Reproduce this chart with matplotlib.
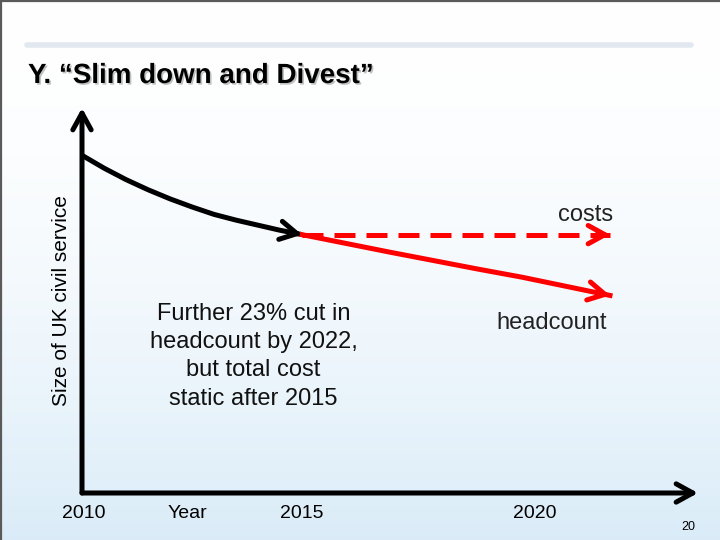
import numpy as np
import matplotlib
matplotlib.use("Agg")
import matplotlib.pyplot as plt
import matplotlib.patheffects as pe
from matplotlib.lines import Line2D

plt.rcParams['font.family'] = ['Liberation Sans', 'DejaVu Sans']

# size of the civil service, 2010 = 100
years_before = [2010, 2010.5, 2011, 2011.5, 2012, 2012.5, 2013, 2013.5, 2014, 2014.5, 2015]
size_before = [100, 96.2, 92.8, 89.8, 87.1, 84.7, 82.5, 80.8, 79.3, 77.8, 76.5]

years_after = [2015, 2016, 2017, 2018, 2019, 2020, 2021, 2022]
headcount_after = [76.5, 73.9, 71.3, 68.8, 66.3, 63.9, 61.2, 58.5]
costs_after = [76.5, 76.5, 76.5, 76.5, 76.5, 76.5, 76.5, 76.5]

tick_pos = [2010.05, 2012.4, 2015.0, 2020.3]
tick_labels = ['2010', 'Year', '2015', '2020']

note = "Further 23% cut in\nheadcount by 2022,\nbut total cost\nstatic after 2015"

HEAD = '->,head_length=0.6,head_width=0.33'


def arrow_head(ax, xs, ys, color, lw):
    # short solid segment at the end of a series carrying the chevron head
    ax.annotate('', xy=(xs[-1], ys[-1]),
                xytext=(xs[-1] - 0.3 * (xs[-1] - xs[-2]), ys[-1] - 0.3 * (ys[-1] - ys[-2])),
                arrowprops=dict(arrowstyle=HEAD, color=color, lw=lw,
                                shrinkA=0, shrinkB=0, mutation_scale=20))


def main():
    fig = plt.figure(figsize=(7.2, 5.4), dpi=100)

    # slide background: white fading to pale blue
    bg = fig.add_axes([0, 0, 1, 1])
    t = np.linspace(0, 1, 300)[:, None] ** 1.8
    top = np.array([1.0, 1.0, 1.0])
    bottom = np.array([0.855, 0.925, 0.972])
    grad = top + (bottom - top) * t[:, :, None]
    bg.imshow(grad, aspect='auto', extent=[0, 1, 0, 1])
    bg.set_xlim(0, 1)
    bg.set_ylim(0, 1)
    bg.axis('off')

    # slide frame and separator bar
    fig.add_artist(Line2D([0, 1], [0.998, 0.998], color='#5a5a5a', lw=1.6))
    fig.add_artist(Line2D([0.0015, 0.0015], [0, 1], color='#5a5a5a', lw=1.6))
    fig.add_artist(Line2D([27 / 720, 691 / 720], [1 - 45 / 540, 1 - 45 / 540],
                          color='#e2e8f0', lw=4, solid_capstyle='round'))

    fig.text(28 / 720, 1 - 76 / 540, 'Y. \u201cSlim down and Divest\u201d',
             fontsize=20, fontweight='bold', va='center', ha='left',
             path_effects=[pe.SimplePatchShadow(offset=(1.2, -1.2), shadow_rgbFace='#999999', alpha=0.6),
                           pe.Normal()])

    ax = fig.add_axes([82 / 720, 47 / 540, 616 / 720, 385 / 540])
    ax.set_facecolor('none')
    ax.set_xlim(2010, 2024)
    ax.set_ylim(0, 114)
    for s in ax.spines.values():
        s.set_visible(False)
    ax.set_yticks([])
    ax.set_xticks(tick_pos, tick_labels)
    ax.tick_params(axis='x', length=0, pad=9, labelsize=14)
    ax.set_ylabel('Size of UK civil service', fontsize=15, labelpad=8)

    # axis arrows
    axis_arrow = dict(arrowstyle=HEAD, color='black', lw=3.6, shrinkA=0, shrinkB=0,
                      mutation_scale=20)
    ax.annotate('', xy=(0, 1), xytext=(0, 0), xycoords='axes fraction', arrowprops=axis_arrow)
    ax.annotate('', xy=(1, 0), xytext=(0, 0), xycoords='axes fraction', arrowprops=axis_arrow)

    # 2010-2015 decline
    ax.plot(years_before, size_before, color='black', lw=3.6, solid_capstyle='butt',
            solid_joinstyle='round')
    arrow_head(ax, years_before, size_before, 'black', 3.6)

    # 2015-2022: costs flat, headcount keeps falling
    ax.plot(years_after, costs_after, color='red', lw=3.6, dashes=(4.2, 2.2))
    arrow_head(ax, years_after, costs_after, 'red', 3.6)
    ax.plot(years_after, headcount_after, color='red', lw=3.6, solid_joinstyle='round')
    arrow_head(ax, years_after, headcount_after, 'red', 3.6)

    ax.text(2022.07, 82.2, 'costs', fontsize=17, ha='right', va='center', color='#222222')
    ax.text(2020.68, 50.3, 'headcount', fontsize=17, ha='center', va='center', color='#222222')
    ax.text(2013.9, 40.5, note, fontsize=17, ha='center', va='center',
            linespacing=1.38, color='#111111')

    fig.text(688 / 720, 1 - 527 / 540, '20', fontsize=9, ha='center', va='center')

    fig.savefig('out.png', dpi=100)


if __name__ == '__main__':
    main()
